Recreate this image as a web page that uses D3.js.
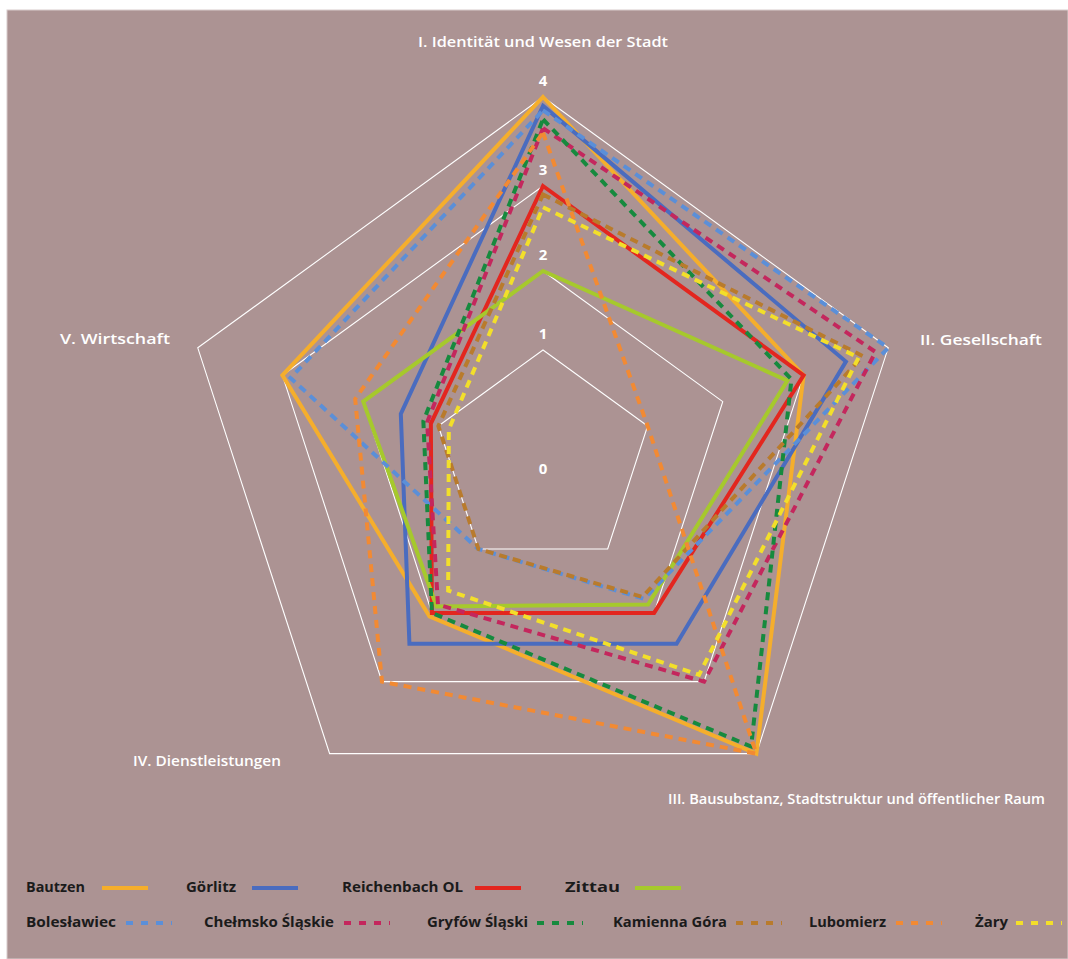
<!DOCTYPE html>
<html>
<head>
<meta charset="utf-8">
<script src="https://cdn.jsdelivr.net/npm/d3@7"></script>
<style>
  html, body { margin: 0; padding: 0; background: #ffffff; }
  svg { display: block; }
</style>
</head>
<body>
<svg id="chart" width="1068" height="959"></svg>
<script>
// ---- data ----
const axes = [
  "I. Identität und Wesen der Stadt",
  "II. Gesellschaft",
  "III. Bausubstanz, Stadtstruktur und öffentlicher Raum",
  "IV. Dienstleistungen",
  "V. Wirtschaft"
];
const ticks = [0, 1, 2, 3, 4];
const tickLabels = ["0", "1", "2", "3", "4"];

const seriesNames = [
  "Bautzen", "Görlitz", "Reichenbach OL", "Zittau",
  "Bolesławiec", "Chełmsko Śląskie", "Gryfów Śląski", "Kamienna Góra", "Lubomierz", "Żary"
];
const bautzen      = [4.0, 3.0, 4.0, 2.05, 3.0];
const goerlitz     = [3.9, 3.5, 2.45, 2.45, 1.5];
const reichenbach  = [3.0, 3.0, 2.0, 2.0, 1.1];
const zittau       = [2.0, 2.8, 1.87, 1.9, 2.0];
const boleslawiec  = [3.85, 4.0, 1.78, 1.0, 2.9];
const chelmsko     = [3.65, 3.85, 3.0, 1.87, 1.15];
const gryfow       = [3.75, 2.85, 3.9, 2.0, 1.2];
const kamienna     = [2.9, 3.7, 1.75, 1.0, 1.0];
const lubomierz    = [3.6, 1.0, 4.0, 3.0, 2.1];
const zary         = [2.75, 3.65, 2.9, 1.65, 0.9];
const seriesValues = [bautzen, goerlitz, reichenbach, zittau, boleslawiec, chelmsko, gryfow, kamienna, lubomierz, zary];

// ---- styles ----
const colors = ["#f5ae2c", "#4a6cbf", "#e3261f", "#a6c92c",
                "#5b8fd8", "#c4275d", "#168a3e", "#b97b2c", "#f28a33", "#f3df2a"];
const dashed = [false, false, false, false, true, true, true, true, true, true];

const W = 1068, H = 959;
const cx = 543, cy = 460;
const svg = d3.select("#chart");

svg.append("rect").attr("x", 7).attr("y", 10).attr("width", W - 7).attr("height", H - 10)
  .attr("fill", "#ac9393").attr("stroke", "#d8cccc").attr("stroke-width", 1);

// radial scale (the reference rings are not equally spaced)
const r = d3.scaleLinear().domain(ticks).range([0, 110, 189, 274, 363]);
const angle = d3.scaleLinear().domain([0, axes.length]).range([-Math.PI / 2, 3 * Math.PI / 2]);

function pt(i, v) {
  const a = angle(i);
  return [cx + r(v) * Math.cos(a), cy + r(v) * Math.sin(a)];
}

const g = svg.append("g");

// grid rings
ticks.filter(t => t > 0).forEach(t => {
  g.append("polygon")
    .attr("points", axes.map((_, i) => pt(i, t).join(",")).join(" "))
    .attr("fill", "none").attr("stroke", "#ffffff").attr("stroke-width", 1.1);
});

// series
const line = d3.line().curve(d3.curveLinearClosed);
seriesValues.forEach((vals, s) => {
  g.append("path")
    .attr("d", line(vals.map((v, i) => pt(i, v))))
    .attr("fill", "none")
    .attr("stroke", colors[s])
    .attr("stroke-width", 4)
    .attr("stroke-linejoin", "miter")
    .attr("stroke-dasharray", dashed[s] ? "8,6" : null);
});

// tick labels
const font = "'Open Sans', 'DejaVu Sans', sans-serif";
ticks.forEach((t, k) => {
  const y = t === 0 ? cy + 10 : cy - r(t) - 15;
  svg.append("text").attr("x", cx).attr("y", y)
    .attr("text-anchor", "middle").attr("dominant-baseline", "middle")
    .attr("font-family", font).attr("font-weight", "bold").attr("font-size", 15)
    .attr("fill", "#ffffff").text(tickLabels[k]);
});

// axis labels
const axisLabelPos = [
  {x: 418, y: 43, w: 250},
  {x: 920, y: 341, w: 122},
  {x: 668, y: 800, w: 377},
  {x: 133, y: 762, w: 148},
  {x: 60,  y: 340, w: 110}
];
axes.forEach((a, i) => {
  const p = axisLabelPos[i];
  svg.append("text").attr("x", p.x).attr("y", p.y)
    .attr("dominant-baseline", "middle")
    .attr("font-family", font).attr("font-weight", 600).attr("font-size", 14)
    .attr("fill", "#ffffff")
    .attr("textLength", p.w).attr("lengthAdjust", "spacingAndGlyphs")
    .text(a);
});

// legend
const legendItems = [
  {tx: 26, tw: 59, lx: 102, y: 888},
  {tx: 186, tw: 50, lx: 252, y: 888},
  {tx: 342, tw: 121, lx: 475, y: 888},
  {tx: 565, tw: 55, lx: 635, y: 888},
  {tx: 26, tw: 90, lx: 126, y: 923},
  {tx: 204, tw: 130, lx: 344, y: 923},
  {tx: 427, tw: 101, lx: 537, y: 923},
  {tx: 613, tw: 114, lx: 736, y: 923},
  {tx: 809, tw: 77, lx: 896, y: 923},
  {tx: 975, tw: 33, lx: 1016, y: 923}
];
seriesNames.forEach((name, s) => {
  const L = legendItems[s];
  svg.append("text").attr("x", L.tx).attr("y", L.y)
    .attr("dominant-baseline", "middle")
    .attr("font-family", font).attr("font-weight", "bold").attr("font-size", 15)
    .attr("fill", "#1b1b1b")
    .attr("textLength", L.tw).attr("lengthAdjust", "spacingAndGlyphs")
    .text(name);
  svg.append("line")
    .attr("x1", L.lx).attr("x2", L.lx + 46)
    .attr("y1", L.y).attr("y2", L.y)
    .attr("stroke", colors[s]).attr("stroke-width", 4)
    .attr("stroke-dasharray", dashed[s] ? "7,8" : null);
});
</script>
</body>
</html>
